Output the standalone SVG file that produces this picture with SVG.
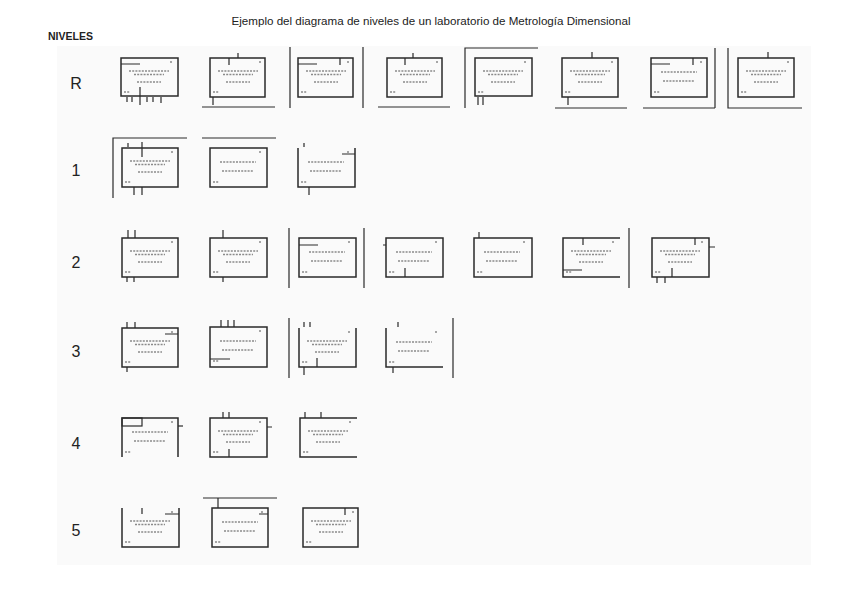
<svg xmlns="http://www.w3.org/2000/svg" xmlns:xlink="http://www.w3.org/1999/xlink" width="848" height="599" viewBox="0 0 848 599">
<style>
.bx{fill:none;stroke:#2a2a2a;stroke-width:1.5}
.ln{fill:none;stroke:#2a2a2a;stroke-width:1.2}
.sm{fill:none;stroke:#8a8a8a;stroke-width:1.3;stroke-dasharray:2 1.2}
.lvl{font-family:"Liberation Sans",Arial,sans-serif;font-size:16px;fill:#222}
.ttl{font-family:"Liberation Sans",Arial,sans-serif;font-size:11.6px;fill:#222}
.hdr{font-family:"Liberation Sans",Arial,sans-serif;font-size:10px;font-weight:bold;fill:#222}
</style>
<defs>
<g id="txt">
<path class="sm" d="M49,4h3M8,13h40M13,16.5h30M16,24h24M3,34h6"/>
</g>
<g id="txt2">
<path class="sm" d="M49,4h3M10,14h36M12,23h32M3,34h6"/>
</g>
</defs>
<rect x="0" y="0" width="848" height="599" fill="#ffffff"/>
<rect x="57" y="46" width="754" height="519" fill="#fafafa"/>
<text class="ttl" x="431" y="25" text-anchor="middle">Ejemplo del diagrama de niveles de un laboratorio de Metrología Dimensional</text>
<text class="hdr" x="48" y="40" textLength="45" lengthAdjust="spacingAndGlyphs">NIVELES</text>
<g id="levels">
<text class="lvl" x="76" y="89" text-anchor="middle">R</text>
<text class="lvl" x="76" y="176" text-anchor="middle">1</text>
<text class="lvl" x="76" y="268" text-anchor="middle">2</text>
<text class="lvl" x="76" y="357" text-anchor="middle">3</text>
<text class="lvl" x="76" y="449" text-anchor="middle">4</text>
<text class="lvl" x="76" y="536" text-anchor="middle">5</text>
</g>
<g id="connectors">
<path class="ln" d="M121,64h19M140,87v18M127,97v5M132,97v5M147,97v5M153,97v5M161,97v6"/>
<path class="ln" d="M229,58v7M238,53v5M202,107h73M213,97v8"/>
<path class="ln" d="M290,47v61M298,64h19M340,58v7M363,47v61"/>
<path class="ln" d="M405,58v7M413,53v5M378,107h72"/>
<path class="ln" d="M465,108V48h73M478,97v8M483,97v8"/>
<path class="ln" d="M592,52v6M555,108h72M568,97v8"/>
<path class="ln" d="M651,64h19M693,58v7M715,48v60M643,108h72"/>
<path class="ln" d="M728,48v60h74M768,52v6"/>
<path class="ln" d="M113,198V138h74M128,143v4M142,142v15M134,187v8M142,187v8"/>
<path class="ln" d="M202,138h74"/>
<path class="ln" d="M304,143v4M342,154h13M309,187v8"/>
<path class="ln" d="M128,230v8M135,230v8M127,277v5M134,277v5"/>
<path class="ln" d="M223,230v8M223,277v5"/>
<path class="ln" d="M289,228v60M299,245h19M364,228v60"/>
<path class="ln" d="M405,268v9M383,245h3"/>
<path class="ln" d="M479,232v6"/>
<path class="ln" d="M563,270h19M583,238v7M629,228v60"/>
<path class="ln" d="M695,238v7M709,247h6M672,268v9M657,277v6M665,277v6"/>
<path class="ln" d="M127,322v6M135,322v6M165,334h13M127,367v5"/>
<path class="ln" d="M221,320v7M228,320v7M234,320v7M210,359h20"/>
<path class="ln" d="M289,318v60M304,322v5M310,322v5M317,358v9M304,367v8"/>
<path class="ln" d="M453,318v60M398,322v5M393,367v6"/>
<path class="ln" d="M178,426h5"/>
<path class="ln" d="M223,412v6M229,412v6M267,427h5M229,449v8"/>
<path class="ln" d="M305,412v6M321,412v6"/>
<path class="ln" d="M142,508v6M165,514h14"/>
<path class="ln" d="M203,498h74M218,498v10M259,514h9"/>
<path class="ln" d="M345,508v7"/>
</g>
<g id="nR1"><rect class="bx" x="121" y="58" width="57" height="38"/><use xlink:href="#txt" x="121" y="58"/></g>
<g id="nR2"><rect class="bx" x="210" y="58" width="55" height="39"/><use xlink:href="#txt" x="210" y="58"/></g>
<g id="nR3"><rect class="bx" x="298" y="58" width="55" height="39"/><use xlink:href="#txt" x="298" y="58"/></g>
<g id="nR4"><rect class="bx" x="387" y="58" width="55" height="39"/><use xlink:href="#txt" x="387" y="58"/></g>
<g id="nR5"><rect class="bx" x="475" y="58" width="57" height="38"/><use xlink:href="#txt" x="475" y="58"/></g>
<g id="nR6"><rect class="bx" x="562" y="58" width="56" height="39"/><use xlink:href="#txt" x="562" y="58"/></g>
<g id="nR7"><rect class="bx" x="651" y="58" width="56" height="39"/><use xlink:href="#txt2" x="651" y="58"/></g>
<g id="nR8"><rect class="bx" x="738" y="58" width="56" height="39"/><use xlink:href="#txt" x="738" y="58"/></g>
<g id="n1A"><rect class="bx" x="122" y="148" width="56" height="39"/><use xlink:href="#txt" x="122" y="148"/></g>
<g id="n1B"><rect class="bx" x="210" y="148" width="57" height="39"/><use xlink:href="#txt2" x="210" y="148"/></g>
<g id="n1C"><path class="bx" d="M298,148v39h57v-39"/><use xlink:href="#txt2" x="298" y="148"/></g>
<g id="n2A"><rect class="bx" x="122" y="238" width="56" height="39"/><use xlink:href="#txt" x="122" y="238"/></g>
<g id="n2B"><rect class="bx" x="210" y="238" width="57" height="39"/><use xlink:href="#txt" x="210" y="238"/></g>
<g id="n2C"><rect class="bx" x="299" y="238" width="57" height="39"/><use xlink:href="#txt2" x="299" y="238"/></g>
<g id="n2D"><rect class="bx" x="386" y="238" width="57" height="39"/><use xlink:href="#txt2" x="386" y="238"/></g>
<g id="n2E"><rect class="bx" x="474" y="238" width="58" height="39"/><use xlink:href="#txt2" x="474" y="238"/></g>
<g id="n2F"><path class="bx" d="M620,238h-57v39h57"/><use xlink:href="#txt" x="563" y="238"/></g>
<g id="n2G"><rect class="bx" x="652" y="238" width="57" height="39"/><use xlink:href="#txt" x="652" y="238"/></g>
<g id="n3A"><rect class="bx" x="122" y="328" width="56" height="39"/><use xlink:href="#txt" x="122" y="328"/></g>
<g id="n3B"><rect class="bx" x="210" y="327" width="57" height="40"/><use xlink:href="#txt2" x="210" y="327"/></g>
<g id="n3C"><path class="bx" d="M299,328v39h57v-39"/><use xlink:href="#txt" x="299" y="328"/></g>
<g id="n3D"><path class="bx" d="M386,328v39h57"/><use xlink:href="#txt2" x="386" y="328"/></g>
<g id="n4A"><path class="bx" d="M122,457v-39h56v39"/><rect class="ln" x="122" y="418" width="20" height="8"/><use xlink:href="#txt2" x="122" y="418"/></g>
<g id="n4B"><rect class="bx" x="210" y="418" width="57" height="39"/><use xlink:href="#txt" x="210" y="418"/></g>
<g id="n4C"><path class="bx" d="M357,418h-57v39h57"/><use xlink:href="#txt" x="300" y="418"/></g>
<g id="n5A"><path class="bx" d="M122,508v39h57v-39"/><use xlink:href="#txt" x="122" y="508"/></g>
<g id="n5B"><rect class="bx" x="212" y="508" width="56" height="39"/><use xlink:href="#txt2" x="212" y="508"/></g>
<g id="n5C"><rect class="bx" x="303" y="508" width="55" height="39"/><use xlink:href="#txt" x="303" y="508"/></g>
</svg>
